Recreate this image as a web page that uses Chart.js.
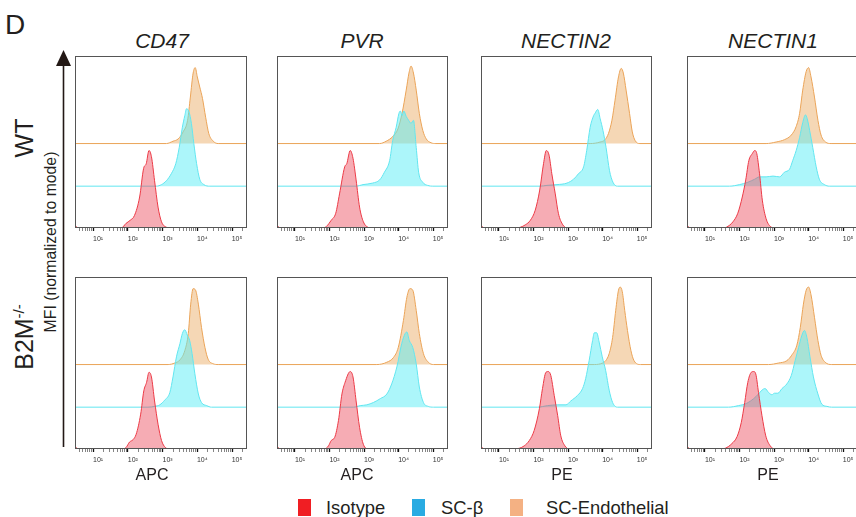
<!DOCTYPE html>
<html>
<head>
<meta charset="utf-8">
<script src="https://cdn.jsdelivr.net/npm/chart.js@4.4.1/dist/chart.umd.min.js"></script>
<style>
  html, body { margin: 0; padding: 0; background: #fff; }
  body { width: 856px; height: 517px; overflow: hidden; position: relative; font-family: "Liberation Sans", Arial, sans-serif; color: #231f20; }
  .abs { position: absolute; white-space: nowrap; line-height: 1; }
  .c { transform: translate(-50%, -50%); }
  .rot { transform: translate(-50%, -50%) rotate(-90deg); }
  .title { font-style: italic; font-size: 21px; }
  .axl { font-size: 16px; }
  .panel { position: absolute; }
  .sq { position: absolute; width: 13px; height: 17px; }
  .lg { font-size: 18.4px; }
</style>
</head>
<body>

<div class="abs" style="left:5px; top:11px; font-size:28px;">D</div>

<svg style="position:absolute; left:0; top:0;" width="90" height="517">
  <line x1="63.5" y1="62" x2="63.5" y2="447" stroke="#231815" stroke-width="1.6"/>
  <polygon points="63.5,50 56,66 71,66" fill="#231815"/>
</svg>

<div class="abs rot" style="left:24px; top:138px; font-size:25px;">WT</div>
<div class="abs rot" style="left:24px; top:337px; font-size:25px;">B2M<sup style="font-size:15px;">-/-</sup></div>
<div class="abs rot" style="left:51px; top:242px; font-size:15.8px;">MFI (normalized to mode)</div>

<div id="titles"></div>
<div id="panels"></div>
<div id="xlabels"></div>

<div class="sq" style="left:298px; top:499px; background:#f01e23;"></div>
<div class="abs lg" style="left:326px; top:498.5px;">Isotype</div>
<div class="sq" style="left:412px; top:499px; background:#29abe2;"></div>
<div class="abs lg" style="left:441px; top:498.5px;">SC-β</div>
<div class="sq" style="left:510px; top:499px; background:#f4b183;"></div>
<div class="abs lg" style="left:546px; top:498.5px;">SC-Endothelial</div>

<script>
// histogram curves: [log10 fluorescence, % of mode]
const markers = ['CD47', 'PVR', 'NECTIN2', 'NECTIN1']
const channels = ['APC', 'APC', 'PE', 'PE']
const seriesNames = ['Isotype', 'SC-β', 'SC-Endothelial']

const isotypeWT = [
  [[0.48,4],[0.56,0],[1.81,0],[1.95,6],[2.07,10],[2.19,16],[2.34,40],[2.455,77],[2.53,83],[2.61,100],[2.68,92],[2.77,61],[2.87,27],[2.97,8],[3.11,1],[3.21,0]],
  [[0.48,4],[0.56,0],[1.80,0],[1.91,2],[2.05,10],[2.18,19],[2.29,44],[2.44,79],[2.50,83],[2.60,100],[2.68,90],[2.77,62],[2.87,27],[2.98,8],[3.11,1],[3.21,0]],
  [[0.48,4],[0.56,0],[1.50,0],[1.62,1],[1.76,4],[1.91,10],[2.05,23],[2.18,49],[2.29,83],[2.37,100],[2.45,94],[2.53,70],[2.63,44],[2.72,19],[2.85,4],[2.98,0]],
  [[0.48,4],[0.56,0],[1.50,0],[1.62,1],[1.81,8],[1.95,19],[2.08,40],[2.18,62],[2.27,87],[2.37,96],[2.44,100],[2.50,96],[2.58,70],[2.66,36],[2.77,12],[2.87,3],[3.01,0]]
]
const scBetaWT = [
  [[2.82,0],[2.97,2],[3.11,7],[3.25,16],[3.38,29],[3.48,50],[3.57,76],[3.64,91],[3.69,100],[3.76,96],[3.83,81],[3.90,55],[3.98,29],[4.07,9],[4.19,2],[4.36,0]],
  [[2.77,0],[2.97,2],[3.25,4],[3.45,8],[3.59,18],[3.74,33],[3.83,59],[3.93,76],[4.01,94],[4.05,97],[4.10,91],[4.15,97],[4.22,90],[4.29,85],[4.36,81],[4.43,85],[4.51,50],[4.58,18],[4.70,5],[4.84,1],[4.99,0]],
  [[2.19,0],[2.39,1],[2.68,2],[2.97,4],[3.16,9],[3.30,16],[3.45,25],[3.54,46],[3.64,76],[3.74,91],[3.78,94],[3.86,99],[3.93,87],[4.01,72],[4.10,50],[4.20,20],[4.30,5],[4.43,0]],
  [[1.71,0],[2.00,2],[2.24,5],[2.44,9],[2.58,12],[2.77,12],[2.97,13],[3.16,12],[3.30,18],[3.45,22],[3.54,33],[3.64,46],[3.74,63],[3.83,82],[3.91,92],[3.96,87],[4.03,72],[4.12,50],[4.22,25],[4.31,9],[4.46,2],[4.60,0]]
]
const scEndoWT = [
  [[3.11,0],[3.30,3],[3.45,6],[3.59,15],[3.72,30],[3.80,60],[3.88,91],[3.94,98],[4.00,86],[4.07,73],[4.15,58],[4.24,34],[4.33,13],[4.46,3],[4.60,0]],
  [[3.45,0],[3.64,3],[3.83,9],[3.98,19],[4.10,39],[4.22,69],[4.30,91],[4.36,100],[4.43,91],[4.51,69],[4.60,39],[4.70,17],[4.80,6],[4.94,1],[5.08,0]],
  [[3.64,0],[3.93,2],[4.07,5],[4.17,13],[4.27,30],[4.36,56],[4.46,86],[4.54,97],[4.60,91],[4.68,69],[4.78,39],[4.86,15],[4.94,4],[5.08,0]],
  [[2.77,0],[3.06,2],[3.30,5],[3.50,11],[3.64,22],[3.74,39],[3.83,69],[3.93,93],[4.00,98],[4.07,86],[4.17,60],[4.27,30],[4.36,11],[4.49,2],[4.65,0]]
]
const isotypeKO = [
  [[0.48,4],[0.56,0],[1.85,0],[1.95,2],[2.05,9],[2.15,12],[2.24,19],[2.37,45],[2.46,75],[2.54,86],[2.61,99],[2.68,93],[2.77,62],[2.87,32],[2.97,11],[3.08,2],[3.21,0]],
  [[0.48,4],[0.56,0],[1.85,0],[1.97,4],[2.05,11],[2.15,15],[2.26,37],[2.36,71],[2.45,86],[2.60,100],[2.68,93],[2.77,62],[2.87,28],[2.98,6],[3.13,0]],
  [[0.48,4],[0.56,0],[1.45,0],[1.59,1],[1.73,4],[1.88,11],[2.02,24],[2.17,52],[2.26,78],[2.36,99],[2.43,100],[2.50,95],[2.60,69],[2.70,43],[2.79,17],[2.91,4],[3.03,0]],
  [[0.48,4],[0.56,0],[1.45,0],[1.59,1],[1.78,7],[1.93,16],[2.05,34],[2.15,60],[2.24,86],[2.34,99],[2.41,100],[2.47,97],[2.55,73],[2.65,43],[2.76,17],[2.89,4],[3.03,0]]
]
const scBetaKO = [
  [[2.58,0],[2.77,1],[2.92,3],[3.06,9],[3.21,19],[3.30,39],[3.40,65],[3.50,82],[3.57,95],[3.64,100],[3.71,93],[3.78,86],[3.85,69],[3.93,43],[4.03,17],[4.12,6],[4.27,2],[4.41,0]],
  [[2.70,0],[2.89,2],[3.08,3],[3.27,6],[3.47,11],[3.66,17],[3.80,30],[3.95,52],[4.09,82],[4.19,95],[4.24,97],[4.31,86],[4.41,77],[4.51,56],[4.60,26],[4.72,6],[4.86,1],[5.01,0]],
  [[2.12,0],[2.41,2],[2.70,3],[2.94,3],[3.08,8],[3.27,15],[3.42,24],[3.51,37],[3.61,60],[3.71,86],[3.76,96],[3.83,96],[3.90,84],[3.99,65],[4.09,47],[4.19,22],[4.29,6],[4.43,0]],
  [[1.68,0],[1.97,2],[2.21,5],[2.41,11],[2.55,17],[2.65,22],[2.74,24],[2.84,19],[2.94,16],[3.01,18],[3.11,18],[3.23,24],[3.37,30],[3.50,41],[3.61,60],[3.71,77],[3.80,92],[3.88,99],[3.95,90],[4.04,65],[4.14,39],[4.27,17],[4.38,4],[4.53,1],[4.67,0]]
]
const scEndoKO = [
  [[3.16,0],[3.35,2],[3.50,6],[3.64,18],[3.74,40],[3.81,78],[3.88,98],[3.95,96],[4.03,78],[4.12,48],[4.22,22],[4.31,7],[4.46,1],[4.60,0]],
  [[3.37,0],[3.66,3],[3.85,9],[3.99,22],[4.14,57],[4.24,87],[4.33,98],[4.41,96],[4.51,70],[4.60,40],[4.72,14],[4.86,3],[5.01,0]],
  [[3.76,0],[4.00,2],[4.09,5],[4.19,14],[4.29,35],[4.38,70],[4.46,96],[4.51,100],[4.57,94],[4.64,70],[4.72,44],[4.82,18],[4.91,5],[5.10,0]],
  [[2.84,0],[3.13,2],[3.37,5],[3.51,12],[3.66,25],[3.76,48],[3.85,78],[3.93,96],[4.00,100],[4.07,90],[4.17,61],[4.27,31],[4.36,12],[4.48,3],[4.67,0]]
]

const rows = [
  [isotypeWT, scBetaWT, scEndoWT],
  [isotypeKO, scBetaKO, scEndoKO]
]

const xMin = 0.48, xMax = 5.43
const yMax = 222
const stackOffset = [0, 54, 109]
const lineColors = ['#ec3a46', '#62e6f0', '#eba458']
const fillColors = ['rgba(234,72,88,0.45)', 'rgba(90,238,246,0.5)', 'rgba(232,166,92,0.45)']
const sup = { 1: '¹', 2: '²', 3: '³', 4: '⁴', 5: '⁵' }

const colLeft = [75, 277, 481, 687]
const colW = [172, 171, 171, 171]
const rowTop = [56, 277]
const plotH = 172
const axisH = 20
const pad = 2

const framePlugin = {
  id: 'frame',
  afterDraw(chart) {
    const { ctx, chartArea: a } = chart
    ctx.save()
    ctx.strokeStyle = '#555'
    ctx.lineWidth = 1
    ctx.strokeRect(Math.round(a.left) + 0.5, Math.round(a.top) + 0.5, Math.round(a.right - a.left) - 1, Math.round(a.bottom - a.top) - 1)
    ctx.restore()
  }
}

function toPoints (curve, offset) {
  const pts = curve.slice()
  if (pts[0][0] > xMin) pts.unshift([xMin, 0])
  if (pts[pts.length - 1][0] < xMax) pts.push([xMax, 0])
  return pts.map((p) => ({ x: p[0], y: p[1] + offset }))
}

function makePanel (r, c) {
  const box = document.createElement('div')
  box.className = 'panel'
  box.style.left = (colLeft[c] - pad) + 'px'
  box.style.top = (rowTop[r] - pad) + 'px'
  box.style.width = (colW[c] + pad * 2) + 'px'
  box.style.height = (plotH + pad + axisH) + 'px'
  const cv = document.createElement('canvas')
  box.appendChild(cv)
  document.getElementById('panels').appendChild(box)

  const datasets = rows[r].map((group, s) => ({
    label: seriesNames[s],
    data: toPoints(group[c], stackOffset[s]),
    borderColor: lineColors[s],
    backgroundColor: fillColors[s],
    borderWidth: 1,
    pointRadius: 0,
    cubicInterpolationMode: 'monotone',
    fill: { value: stackOffset[s] }
  }))

  new Chart(cv, {
    type: 'line',
    data: { datasets },
    options: {
      animation: false,
      responsive: true,
      maintainAspectRatio: false,
      events: [],
      layout: { padding: { left: pad, right: pad, top: pad, bottom: 0 } },
      plugins: { legend: { display: false }, tooltip: { enabled: false } },
      scales: {
        x: {
          type: 'linear',
          min: xMin,
          max: xMax,
          afterBuildTicks: (scale) => {
            const t = []
            for (let n = 0; n <= 5; n++) {
              for (let k = 1; k <= 9; k++) {
                const v = n + Math.log10(k)
                if (v >= xMin && v <= xMax) t.push({ value: v, m: k === 1 })
              }
            }
            scale.ticks = t
          },
          afterFit: (scale) => { scale.height = axisH },
          border: { display: false },
          grid: {
            drawOnChartArea: false,
            drawTicks: true,
            tickLength: 3,
            tickColor: (ctx) => (ctx.tick && ctx.tick.m ? '#111' : '#666'),
            tickWidth: (ctx) => (ctx.tick && ctx.tick.m ? 1.3 : 0.8)
          },
          ticks: {
            autoSkip: false,
            maxRotation: 0,
            padding: 4,
            labelOffset: 5,
            color: '#333',
            font: { size: 7, family: 'Liberation Sans' },
            callback: (value, index, ticks) => (ticks[index].m ? '10' + sup[Math.round(value)] : '')
          }
        },
        y: { type: 'linear', min: 0, max: yMax, display: false }
      }
    },
    plugins: [framePlugin]
  })
}

const titleBox = document.getElementById('titles')
const xlabBox = document.getElementById('xlabels')
const titleX = [162, 362, 566, 773]
const xlabX = [152, 357, 562, 768]
markers.forEach((m, c) => {
  const t = document.createElement('div')
  t.className = 'abs c title'
  t.style.left = titleX[c] + 'px'
  t.style.top = '39.5px'
  t.textContent = m
  titleBox.appendChild(t)
  const l = document.createElement('div')
  l.className = 'abs c axl'
  l.style.left = xlabX[c] + 'px'
  l.style.top = '474.5px'
  l.textContent = channels[c]
  xlabBox.appendChild(l)
})

for (let r = 0; r < 2; r++) {
  for (let c = 0; c < 4; c++) makePanel(r, c)
}
</script>
</body>
</html>
